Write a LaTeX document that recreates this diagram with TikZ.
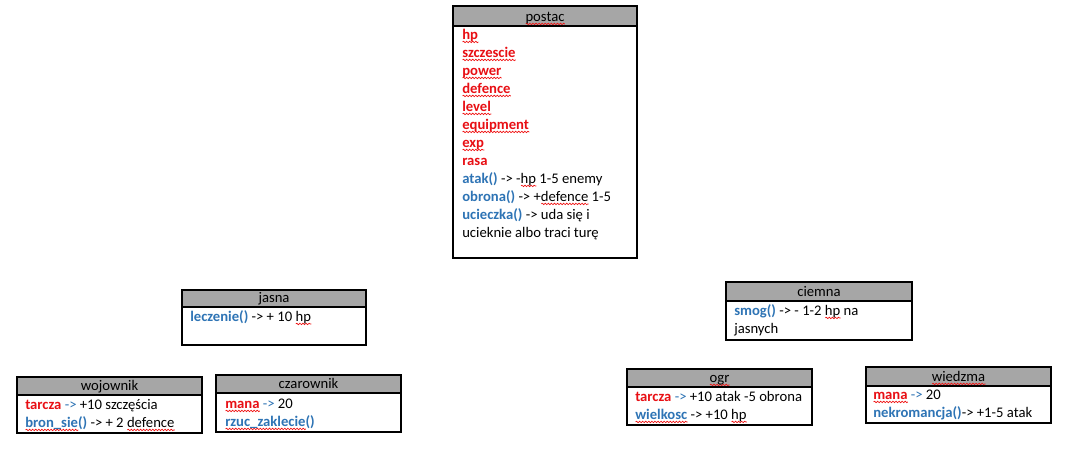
\documentclass[tikz,border=0pt]{standalone}
\usepackage{fontspec}
\setmainfont{Carlito}
\usetikzlibrary{decorations.pathmorphing}
\definecolor{cred}{HTML}{E80F14}
\definecolor{cblue}{HTML}{2E74B5}
\definecolor{hdr}{HTML}{A6A6A6}
\definecolor{sqred}{HTML}{F01010}
\newsavebox\sqbox
\newlength\sqlen
\newcommand\sq[1]{\sbox\sqbox{#1}\setlength\sqlen{\wd\sqbox}\rlap{\smash{\raisebox{-3pt}{\tikz[x=1pt,y=1pt]\draw[sqred,line width=0.5pt,decorate,decoration={snake,amplitude=0.55pt,segment length=2.3pt}] (0,0) -- (\sqlen,0);}}}\usebox\sqbox}
\newcommand\R[1]{\textcolor{cred}{\bfseries #1}}
\newcommand\B[1]{\textcolor{cblue}{\bfseries #1}}
\newcommand\Ba[1]{\textcolor{cblue}{#1}}
\tikzset{
  boxline/.style={draw=black, line width=0.9pt},
  txt/.style={anchor=base west, inner sep=0pt, font=\fontsize{11}{13.5}\selectfont},
  titletxt/.style={anchor=base, inner sep=0pt, font=\fontsize{11}{13.5}\selectfont},
}
\newcommand\umlbox[7]{%
  \draw[boxline, fill=hdr] (#2,#3) rectangle (#4,#6);
  \draw[boxline, fill=white] (#2,#6) rectangle (#4,#5);
  \node[titletxt] (#1) at ({(#2+#4)/2},#6-5) {#7};}
\begin{document}
\begin{tikzpicture}[x=0.75pt,y=-0.75pt]
\useasboundingbox[fill=white] (0,0) rectangle (1089,457);
% postac
\umlbox{postac}{453}{6}{637}{258}{26}{\sq{postac}}
\node[txt] (p1) at (462,39) {\R{\sq{hp}}};
\node[txt] (p2) at (462,57) {\R{\sq{szczescie}}};
\node[txt] (p3) at (462,75) {\R{\sq{power}}};
\node[txt] (p4) at (462,93) {\R{\sq{defence}}};
\node[txt] (p5) at (462,111) {\R{\sq{level}}};
\node[txt] (p6) at (462,129) {\R{\sq{equipment}}};
\node[txt] (p7) at (462,147) {\R{\sq{exp}}};
\node[txt] (p8) at (462,165) {\R{rasa}};
\node[txt] (p9) at (462,183) {\B{atak()} -> -\sq{hp} 1-5 enemy};
\node[txt] (p10) at (462,201) {\B{obrona()} -> +\sq{defence} 1-5};
\node[txt] (p11) at (462,219) {\B{ucieczka()} -> uda się i};
\node[txt] (p12) at (462,237) {ucieknie albo traci turę};
% jasna
\umlbox{jasna}{182}{290}{366}{345}{307}{jasna}
\node[txt] (j1) at (190,321) {\B{leczenie()} -> + 10 \sq{hp}};
% ciemna
\umlbox{ciemna}{726}{282}{912}{340}{301}{ciemna}
\node[txt] (c1) at (734,315) {\B{smog()} -> - 1-2 \sq{hp} na};
\node[txt] (c2) at (734,333) {jasnych};
% wojownik
\umlbox{wojownik}{17}{377}{202}{433}{395}{wojownik}
\node[txt] (w1) at (25,409) {\R{tarcza} \Ba{->} +10 szczęścia};
\node[txt] (w2) at (25,427) {\B{\sq{bron\_sie}()} -> + 2 \sq{defence}};
% czarownik
\umlbox{czarownik}{216}{375}{401}{432}{393}{czarownik}
\node[txt] (z1) at (225,408) {\R{\sq{mana}} \Ba{->} 20};
\node[txt] (z2) at (225,426) {\B{\sq{rzuc\_zaklecie}()}};
% ogr
\umlbox{ogr}{627}{369}{812}{425}{387}{\sq{ogr}}
\node[txt] (o1) at (635,401) {\R{tarcza} \Ba{->} +10 atak -5 obrona};
\node[txt] (o2) at (635,419) {\B{\sq{wielkosc}} -> +10 \sq{hp}};
% wiedzma
\umlbox{wiedzma}{866}{367}{1051}{423}{386}{\sq{wiedzma}}
\node[txt] (d1) at (873,399) {\R{\sq{mana}} \Ba{->} 20};
\node[txt] (d2) at (873,417) {\B{nekromancja()}-> +1-5 atak};
\end{tikzpicture}
\end{document}
